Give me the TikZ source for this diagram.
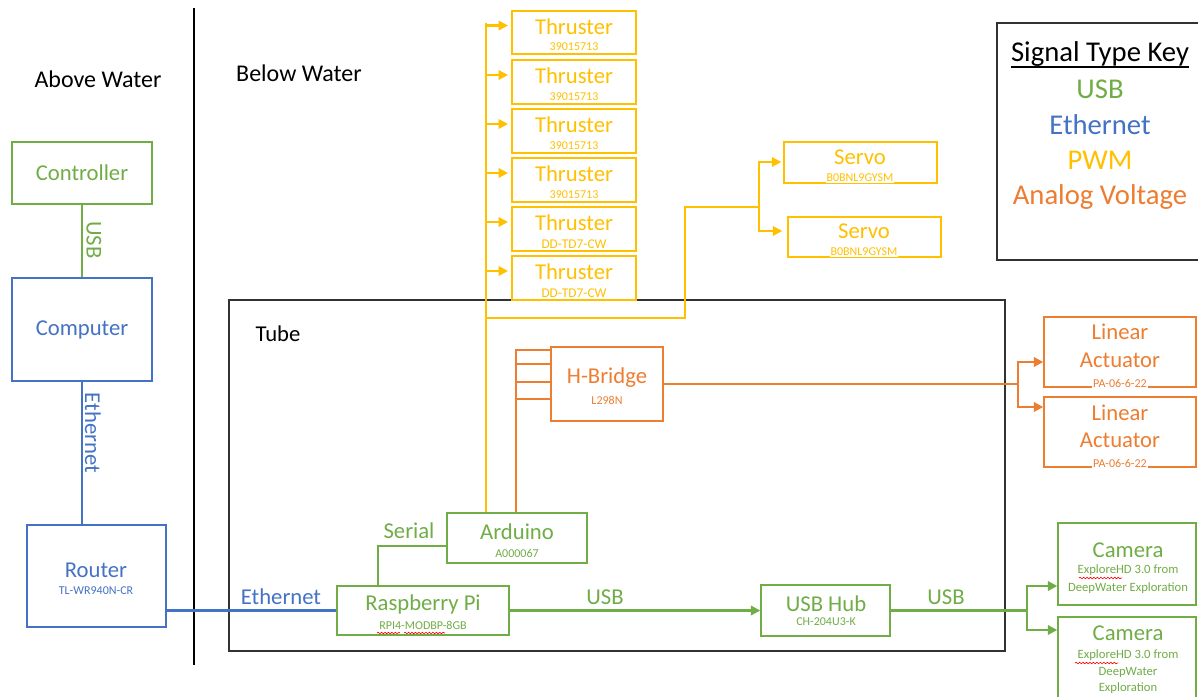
\documentclass[tikz,border=0pt]{standalone}
\usepackage{fontspec}
\setmainfont{Carlito}
\usetikzlibrary{fit,arrows.meta,calc,decorations.pathmorphing}
\definecolor{cgreen}{RGB}{112,173,71}
\definecolor{cblue}{RGB}{68,114,196}
\definecolor{cyellow}{RGB}{255,192,0}
\definecolor{corange}{RGB}{237,125,49}
\definecolor{cframe}{RGB}{50,50,50}
\begin{document}
\begin{tikzpicture}[x=0.75pt,y=-0.75pt,
  box/.style={draw, line width=1.1pt, inner sep=0pt},
  wire/.style={line width=1.6pt},
  arr/.style={wire,-{Triangle[length=7pt,width=7pt]}},
  big/.style={font=\fontsize{17pt}{19pt}\selectfont, inner sep=0pt},
  huge/.style={font=\fontsize{18pt}{20pt}\selectfont, inner sep=0pt},
  small/.style={font=\fontsize{9pt}{11pt}\selectfont, inner sep=0.6pt},
  keytxt/.style={font=\fontsize{21.5pt}{24pt}\selectfont, inner sep=0pt},
  squig/.style={red, line width=0.45pt, decorate, decoration={snake, amplitude=0.6pt, segment length=2.6pt}}]
\fill[white] (0,0) rectangle (1198,696);
\useasboundingbox (0,0) rectangle (1198,696);

% divider and zones
\draw[line width=1.4pt] (194,8) -- (194,665);
\node[huge] (abovew) at (98,79) {Above Water};
\node[huge] (beloww) at (299,73) {Below Water};

% tube
\node[box, draw=cframe, line width=1.3pt, fit={(229,300) (1005,651)}] (tube) {};
\node[big] (tubel) at (278,334) {Tube};

% key
\node[box, draw=cframe, line width=1.3pt, fit={(997,23) (1210,260)}] (keybox) {};
\node[keytxt] (k0) at (1100,54) {Signal Type Key};
\draw[line width=1.4pt] (k0.west |- 0,67) -- (k0.east |- 0,67);
\node[keytxt, text=cgreen] (k1) at (1100,89) {USB};
\node[keytxt, text=cblue] (k2) at (1100,125) {Ethernet};
\node[keytxt, text=cyellow] (k3) at (1100,160) {PWM};
\node[keytxt, text=corange] (k4) at (1100,197) {Analog Voltage};

% above water
\node[box, draw=cgreen, fit={(12,142) (152,204)}] (ctrl) {};
\node[big, text=cgreen] (ctrlt) at (ctrl.center) {Controller};
\node[box, draw=cblue, fit={(12,278) (152,381)}] (comp) {};
\node[big, text=cblue] (compt) at (comp.center) {Computer};
\node[box, draw=cblue, fit={(27,525) (166,627)}] (rtr) {};
\node[big, text=cblue] (rtrt) at (96,570) {Router};
\node[small, text=cblue] (rtrs) at (96,591) {TL-WR940N-CR};

\draw[wire, cgreen] (ctrl.south) -- (comp.north);
\node[big, text=cgreen, rotate=-90] (usbl1) at (94,240) {USB};
\draw[wire, cblue] (comp.south) -- (comp.south |- rtr.north);
\node[big, text=cblue, rotate=-90] (ethl1) at (93,433) {Ethernet};

% raspberry pi
\node[box, draw=cgreen, fit={(337,586) (509,635)}] (rpi) {};
\node[big, text=cgreen] (rpit) at (423,604) {Raspberry Pi};
\node[small, text=cgreen] (rpis) at (423,625) {RPI4-MODBP-8GB};
\draw[squig] (377,633) -- (400,633);
\draw[squig] (404,633) -- (445,633);
\draw[wire, cblue] (rpi.west) -- (rpi.west -| rtr.east);
\node[big, text=cblue] (ethl2) at (281,597) {Ethernet};

% arduino
\node[box, draw=cgreen, fit={(447,513) (587,563)}] (ard) {};
\node[big, text=cgreen] (ardt) at (517,532) {Arduino};
\node[small, text=cgreen] (ards) at (517,553) {A000067};
\draw[wire, cgreen] (ard.west) ++(0,8) -| (rpi.north -| 378,0);
\node[big, text=cgreen] (seriall) at (409,531) {Serial};

% usb hub
\node[box, draw=cgreen, fit={(761,585) (890,636)}] (hub) {};
\node[big, text=cgreen] (hubt) at (826,604) {USB Hub};
\node[small, text=cgreen] (hubs) at (826,622) {CH-204U3-K};
\draw[arr, cgreen] (rpi.east) -- (hub.west);
\node[big, text=cgreen] (usbl2) at (605,597) {USB};

% cameras
\node[box, draw=cgreen, fit={(1058,523) (1196,605)}] (cam1) {};
\node[big, text=cgreen] (cam1t) at (1128,550) {Camera};
\node[small, text=cgreen, align=center, font=\fontsize{9.5pt}{13pt}\selectfont] (cam1s) at (1128,579) {ExploreHD 3.0 from\\DeepWater Exploration};
\draw[squig] (1079,578) -- (1122,578);
\node[box, draw=cgreen, fit={(1058,617) (1196,710)}] (cam2) {};
\node[big, text=cgreen] (cam2t) at (1128,633) {Camera};
\node[small, text=cgreen, align=center, font=\fontsize{9.5pt}{12.4pt}\selectfont] (cam2s) at (1128,672) {ExploreHD 3.0 from\\DeepWater\\Exploration};
\draw[squig] (1075,663) -- (1118,663);
\coordinate (cj) at (1027,611);
\draw[wire, cgreen] (hub.east) -- (hub.east -| cj);
\node[big, text=cgreen] (usbl3) at (946,597) {USB};
\draw[arr, cgreen] (hub.east -| cj) |- (cam1.west |- 0,586);
\draw[arr, cgreen] (hub.east -| cj) |- (cam2.west |- 0,630);

% thrusters
\foreach \n/\ya/\yb/\sub/\fs in {1/11/54/39015713/9, 2/60/104/39015713/9, 3/109/153/39015713/9, 4/158/202/39015713/9, 5/207/251/DD-TD7-CW/10, 6/256/300/DD-TD7-CW/10} {
  \node[box, draw=cyellow, fit={(512,\ya) (636,\yb)}] (t\n) {};
  \node[big, text=cyellow] (tm\n) at (574,\ya+16) {Thruster};
  \node[small, text=cyellow, font=\fontsize{\fs pt}{11pt}\selectfont] (ts\n) at (574,\yb-7) {\sub};
  \draw[arr, cyellow] (t\n.west -| 486,0) ++(0,-7) -- ++(22,0);
}
\coordinate (ttop) at (486,23);
\draw[wire, cyellow] (ard.north -| ttop) -- (ttop);

% servos
\node[box, draw=cyellow, fit={(784,142) (937,183)}] (sv1) {};
\node[big, text=cyellow] (sv1t) at (860,157) {Servo};
\node[small, text=cyellow, fill=white] (sv1s) at (860,178) {B0BNL9GYSM};
\node[box, draw=cyellow, fit={(788,217) (941,257)}] (sv2) {};
\node[big, text=cyellow] (sv2t) at (864,231) {Servo};
\node[small, text=cyellow, fill=white] (sv2s) at (864,252) {B0BNL9GYSM};
\coordinate (bj) at (486,318);
\coordinate (sj) at (759,207);
\draw[wire, cyellow] (bj) -- (685,318) -- (685,207) -- (sj);
\draw[arr, cyellow] (sj) |- ($(sv1.west |- 0,162)+(-2,0)$);
\draw[arr, cyellow] (sj) |- ($(sv2.west |- 0,231)+(-5,0)$);

% h-bridge
\node[box, draw=corange, fit={(551,347) (663,421)}] (hb) {};
\node[big, text=corange] (hbt) at (607,378) {H-Bridge};
\node[small, text=corange] (hbs) at (607,400) {L298N};
\draw[wire, corange] (ard.north -| 516,0) -- (516,349);
\foreach \y in {350,364,382,399} { \draw[wire, corange] (516,\y) -- (hb.west |- 0,\y); }

% linear actuators
\node[box, draw=corange, fit={(1044,317) (1196,387)}] (la1) {};
\node[big, text=corange] (la1a) at (1120,332) {Linear};
\node[big, text=corange] (la1b) at (1120,360) {Actuator};
\node[small, text=corange, fill=white] (la1s) at (1120,383) {PA-06-6-22};
\node[box, draw=corange, fit={(1044,397) (1196,467)}] (la2) {};
\node[big, text=corange] (la2a) at (1120,413) {Linear};
\node[big, text=corange] (la2b) at (1120,440) {Actuator};
\node[small, text=corange, fill=white] (la2s) at (1120,463) {PA-06-6-22};
\coordinate (aj) at (1018,384);
\draw[wire, corange] (hb.east) -- (hb.east -| aj);
\draw[arr, corange] (hb.east -| aj) |- (la1.west |- 0,362);
\draw[arr, corange] (hb.east -| aj) |- (la2.west |- 0,407);
\end{tikzpicture}
\end{document}
